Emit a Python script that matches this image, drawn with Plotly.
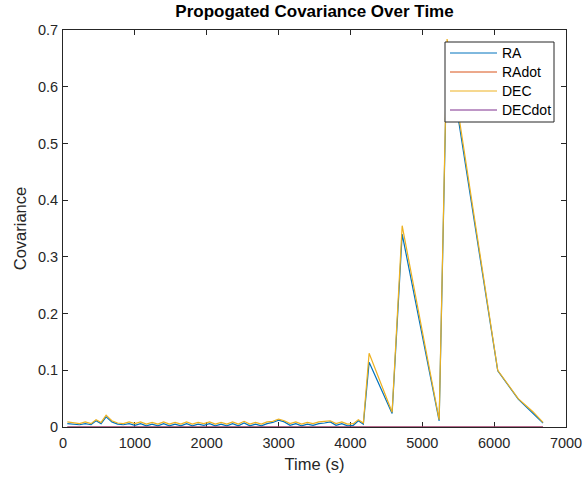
import plotly.graph_objects as go

time_s = [60, 150, 230, 310, 390, 460, 530, 600, 680, 760, 840,
          920, 1000, 1080, 1160, 1240, 1320, 1400, 1480, 1560, 1640,
          1720, 1800, 1880, 1960, 2040, 2120, 2200, 2280, 2360, 2440,
          2520, 2600, 2680, 2760, 2840, 2920, 3000, 3080, 3160, 3240,
          3320, 3400, 3480, 3560, 3640, 3720, 3800, 3880, 3960, 4040,
          4110, 4180,
          4260, 4580, 4720, 5235, 5345, 6050, 6335, 6540, 6680]

dec = [0.009, 0.008, 0.006, 0.009, 0.006, 0.013, 0.008, 0.021, 0.011, 0.007, 0.006,
       0.009, 0.006, 0.009, 0.005, 0.008, 0.005, 0.009, 0.005, 0.008, 0.005,
       0.009, 0.005, 0.008, 0.006, 0.009, 0.005, 0.008, 0.005, 0.009, 0.005,
       0.010, 0.005, 0.008, 0.005, 0.009, 0.010, 0.014, 0.011, 0.006, 0.009,
       0.005, 0.008, 0.006, 0.009, 0.010, 0.011, 0.006, 0.009, 0.005, 0.006,
       0.013, 0.007,
       0.130, 0.026, 0.355, 0.013, 0.684, 0.100, 0.050, 0.027, 0.008]

ra = [0.006, 0.005, 0.004, 0.006, 0.004, 0.011, 0.006, 0.018, 0.009, 0.005, 0.004,
      0.006, 0.003, 0.006, 0.002, 0.005, 0.002, 0.006, 0.002, 0.005, 0.002,
      0.006, 0.002, 0.005, 0.003, 0.006, 0.002, 0.005, 0.002, 0.006, 0.002,
      0.007, 0.002, 0.005, 0.002, 0.006, 0.008, 0.012, 0.009, 0.003, 0.006,
      0.002, 0.005, 0.003, 0.006, 0.007, 0.009, 0.003, 0.006, 0.002, 0.003,
      0.011, 0.005,
      0.114, 0.024, 0.340, 0.011, 0.670, 0.099, 0.049, 0.025, 0.007]

radot = [0.0, 0.0, 0.0, 0.0, 0.0, 0.0, 0.0, 0.0, 0.0, 0.0, 0.0,
         0.0, 0.0, 0.0, 0.0, 0.0, 0.0, 0.0, 0.0, 0.0, 0.0,
         0.0, 0.0, 0.0, 0.0, 0.0, 0.0, 0.0, 0.0, 0.0, 0.0,
         0.0, 0.0, 0.0, 0.0, 0.0, 0.0, 0.0, 0.0, 0.0, 0.0,
         0.0, 0.0, 0.0, 0.0, 0.0, 0.0, 0.0, 0.0, 0.0, 0.0,
         0.0, 0.0,
         0.0, 0.0, 0.0, 0.0, 0.0, 0.0, 0.0, 0.0, 0.0]

decdot = [0.0, 0.0, 0.0, 0.0, 0.0, 0.0, 0.0, 0.0, 0.0, 0.0, 0.0,
          0.0, 0.0, 0.0, 0.0, 0.0, 0.0, 0.0, 0.0, 0.0, 0.0,
          0.0, 0.0, 0.0, 0.0, 0.0, 0.0, 0.0, 0.0, 0.0, 0.0,
          0.0, 0.0, 0.0, 0.0, 0.0, 0.0, 0.0, 0.0, 0.0, 0.0,
          0.0, 0.0, 0.0, 0.0, 0.0, 0.0, 0.0, 0.0, 0.0, 0.0,
          0.0, 0.0,
          0.0, 0.0, 0.0, 0.0, 0.0, 0.0, 0.0, 0.0, 0.0]

series_names = ["RA", "RAdot", "DEC", "DECdot"]
series_values = [ra, radot, dec, decdot]
series_colors = ["#0072BD", "#D95319", "#EDB120", "#7E2F8E"]

W, H = 584, 481
L, R, T, B = 63, 18, 30, 54
pw, ph = W - L - R, H - T - B


def px(x):
    return (x - L) / pw


def py(y):
    return (H - B - y) / ph


fig = go.Figure()
for name, vals, col in zip(series_names, series_values, series_colors):
    fig.add_trace(go.Scatter(x=time_s, y=vals, name=name, mode="lines",
                             line=dict(color=col, width=1.2), cliponaxis=False,
                             showlegend=False))

# manual legend box (MATLAB style)
shapes = [dict(type="rect", xref="paper", yref="paper",
               x0=px(445), x1=px(554), y0=py(122), y1=py(42),
               line=dict(color="#262626", width=1), fillcolor="white", layer="above")]
annotations = []
entry_y = [53, 72, 91, 110]
for name, col, yy in zip(series_names, series_colors, entry_y):
    shapes.append(dict(type="line", xref="paper", yref="paper",
                       x0=px(450), x1=px(497), y0=py(yy), y1=py(yy),
                       line=dict(color=col, width=1), layer="above"))
    annotations.append(dict(text=name, xref="paper", yref="paper",
                            x=px(500), y=py(yy), xanchor="left", yanchor="middle",
                            showarrow=False, font=dict(size=14, color="black")))

axcol = "#262626"
fig.update_layout(
    width=W, height=H,
    margin=dict(l=L, r=R, t=T, b=B, autoexpand=False),
    paper_bgcolor="white", plot_bgcolor="white",
    font=dict(family="Liberation Sans, Arial, sans-serif", size=14.5, color=axcol),
    title=dict(text="<b>Propogated Covariance Over Time</b>", x=px(314.5), xanchor="center",
               xref="paper", y=1 - 5 / H, yref="container", yanchor="top",
               font=dict(size=17, color="black")),
    showlegend=False,
    shapes=shapes,
    annotations=annotations,
)
fig.update_xaxes(range=[0, 7000], dtick=1000, tick0=0, showgrid=False, zeroline=False,
                 showline=True, linecolor=axcol, linewidth=1, mirror="ticks",
                 ticks="inside", ticklen=5, tickcolor=axcol, automargin=False,
                 ticklabelstandoff=3, layer="below traces",
                 title=dict(text="Time (s)", font=dict(size=16.5), standoff=8))
fig.update_yaxes(range=[0, 0.7], dtick=0.1, tick0=0, showgrid=False, zeroline=False,
                 showline=True, linecolor=axcol, linewidth=1, mirror="ticks",
                 ticks="inside", ticklen=5, tickcolor=axcol, tickformat="~g",
                 automargin=False, ticklabelstandoff=1, layer="below traces",
                 title=dict(text="Covariance", font=dict(size=16.5), standoff=7))

fig.write_html("out.html")
